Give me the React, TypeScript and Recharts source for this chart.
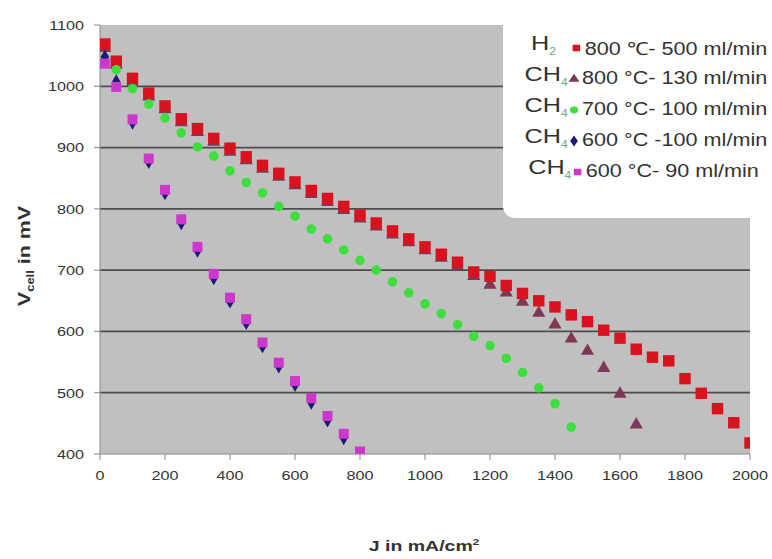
import { ScatterChart, Scatter, XAxis, YAxis, CartesianGrid, Legend, Symbols, Label } from 'recharts';

// current density (mA/cm2), shared by every series; each series stops where its measurements end
const currentDensity = [
  15, 50, 100, 150, 200, 250, 300, 350, 400, 450, 500, 550, 600, 650, 700, 750, 800, 850, 900, 950,
  1000, 1050, 1100, 1150, 1200, 1250, 1300, 1350, 1400, 1450, 1500, 1550, 1600, 1650, 1700, 1750,
  1800, 1850, 1900, 1950, 2000
];

const h2At800 = [
  1069, 1041, 1013, 989, 968, 947, 931, 915, 899, 885, 871, 858, 844, 830, 817, 804, 790, 777, 764, 751,
  738, 726, 713, 697, 690, 675, 662, 650, 640, 627, 616, 602, 589, 571, 558, 552, 523, 499, 474, 451, 418
];
const ch4At800 = [
  1062, 1035, 1006, 983, 962, 941, 925, 909, 893, 879, 865, 852, 838, 824, 811, 798, 784, 771, 758, 745,
  732, 720, 706, 690, 676, 663, 648, 630, 611, 588, 568, 540, 498, 448
];
const ch4At700 = [
  1043, 1027, 996, 971, 948, 924, 901, 886, 862, 843, 826, 804, 788, 767, 751, 733, 716, 700, 681, 663,
  645, 629, 611, 592, 577, 556, 533, 508, 482, 444
];
const ch4At600Flow100 = [1048, 1008, 941, 877, 826, 777, 732, 687, 649, 614, 576, 543, 513, 484, 455, 426];
const ch4At600Flow90 = [1037, 999, 946, 882, 831, 783, 738, 694, 655, 620, 582, 549, 519, 491, 462, 433, 404];

const xTicks = [0, 200, 400, 600, 800, 1000, 1200, 1400, 1600, 1800, 2000];
const yTicks = [400, 500, 600, 700, 800, 900, 1000, 1100];
const gridValues = [500, 600, 700, 800, 900, 1000];

const toPoints = (values: number[]) => values.map((v, i) => ({ j: currentDensity[i], v }));

const series = [
  { key: 'h2-800', gas: 'H', sub: '2', label: '800 \u2103- 500 ml/min', color: '#d8121e', symbol: 'square', size: 130, values: h2At800, gap: 12, pad: 0 },
  { key: 'ch4-800', gas: 'CH', sub: '4', label: '800 \u00b0C- 130 ml/min', color: '#7e3858', symbol: 'triangle', size: 75, values: ch4At800, gap: 0, pad: 0 },
  { key: 'ch4-700', gas: 'CH', sub: '4', label: '700 \u00b0C- 100 ml/min', color: '#3ede3e', symbol: 'circle', size: 72, values: ch4At700, gap: 0, pad: 0 },
  { key: 'ch4-600-100', gas: 'CH', sub: '4', label: '600 \u00b0C -100 ml/min', color: '#1a1a78', symbol: 'diamond', size: 60, values: ch4At600Flow100, gap: 0, pad: 0 },
  { key: 'ch4-600-90', gas: 'CH', sub: '4', label: '600 \u00b0C- 90 ml/min', color: '#cc38cc', symbol: 'square', size: 100, values: ch4At600Flow90, gap: 0, pad: 7 }
];

// Excel-like paint order: the CH4 800 triangles sit under the H2 squares
const drawOrder = ['ch4-800', 'h2-800', 'ch4-700', 'ch4-600-100', 'ch4-600-90'];

const font = '"Liberation Sans", Arial, sans-serif';

function StretchedTick({ x, y, payload, textAnchor, dy }: any) {
  return (
    <text
      transform={`translate(${x},${y}) scale(1.2,1)`}
      textAnchor={textAnchor}
      dy={dy}
      fill="#333"
      fontSize={13.5}
      fontFamily={font}
    >
      {payload.value}
    </text>
  );
}

function LegendBox() {
  return (
    <div
      style={{
        width: 269,
        height: 218,
        background: '#fff',
        borderBottomLeftRadius: 12,
        fontFamily: font,
        color: '#333',
        paddingTop: 32,
        boxSizing: 'border-box'
      }}
    >
      {series.map((s) => (
        <div
          key={s.key}
          style={{
            display: 'flex',
            justifyContent: 'flex-end',
            alignItems: 'center',
            height: 31,
            paddingRight: 4 + s.pad,
            transform: 'scaleX(1.2)',
            transformOrigin: 'right center'
          }}
        >
          <span style={{ fontSize: 21, lineHeight: '21px', marginRight: s.gap }}>
            {s.gas}
            <sub style={{ fontSize: 10, color: '#6a8' }}>{s.sub}</sub>
          </span>
          <svg width={10} height={14} style={{ margin: '0 2px 0 0' }}>
            <Symbols cx={5} cy={7} type={s.symbol as any} size={s.symbol === 'square' ? 40 : 36} fill={s.color} />
          </svg>
          <span style={{ fontSize: 18 }}>{s.label}</span>
        </div>
      ))}
    </div>
  );
}

export default function App() {
  return (
    <div style={{ position: 'absolute', left: 0, top: 0, width: 772, height: 559, background: '#fff' }}>
      <ScatterChart width={772} height={559} margin={{ top: 25, right: 22, bottom: 75, left: 0 }}>
        <CartesianGrid vertical={false} horizontalValues={gridValues} stroke="#4e4e4e" strokeWidth={1.7} fill="#c0c0c0" />
        <XAxis
          type="number"
          dataKey="j"
          domain={[0, 2000]}
          ticks={xTicks}
          allowDataOverflow
          stroke="#888"
          tickSize={6}
          tickMargin={10}
          tick={(p: any) => <StretchedTick {...p} dy="0.71em" />}
        >
          <Label
            content={() => (
              <text
                transform="translate(424 551) scale(1.3,1)"
                textAnchor="middle"
                fontFamily={font}
                fontWeight="bold"
                fontSize={15}
                fill="#333"
              >
                J in mA/cm<tspan dy={-6} fontSize={9}>2</tspan>
              </text>
            )}
          />
        </XAxis>
        <YAxis
          type="number"
          dataKey="v"
          domain={[400, 1100]}
          ticks={yTicks}
          allowDataOverflow
          width={100}
          stroke="#888"
          tickSize={6}
          tickMargin={10}
          tick={(p: any) => <StretchedTick {...p} dy="0.355em" />}
        >
          <Label
            content={() => (
              <text
                transform="translate(30 256) rotate(-90) scale(1.3,1)"
                textAnchor="middle"
                fontFamily={font}
                fontWeight="bold"
                fontSize={16.5}
                fill="#333"
              >
                V<tspan dy={4} fontSize={10}>cell</tspan>
                <tspan dy={-4}> in mV</tspan>
              </text>
            )}
          />
        </YAxis>
        {drawOrder.map((k) => {
          const s = series.find((d) => d.key === k)!;
          return (
            <Scatter
              key={s.key}
              name={s.key}
              data={toPoints(s.values)}
              fill={s.color}
              isAnimationActive={false}
              shape={(p: any) => <Symbols cx={p.cx} cy={p.cy} type={s.symbol as any} size={s.size} fill={s.color} />}
            />
          );
        })}
        <Legend
          layout="vertical"
          align="center"
          verticalAlign="middle"
          wrapperStyle={{ top: 0, left: 503, width: 269, height: 218 }}
          content={() => <LegendBox />}
        />
      </ScatterChart>
    </div>
  );
}
